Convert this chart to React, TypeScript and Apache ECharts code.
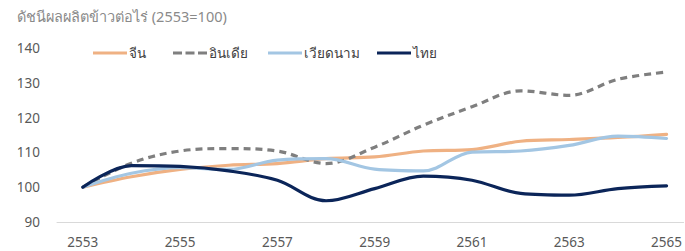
import React, { useEffect, useRef } from "react";
import * as echarts from "echarts";

const years = [2553, 2554, 2555, 2556, 2557, 2558, 2559, 2560, 2561, 2562, 2563, 2564, 2565];
const xTickLabels = [2553, 2555, 2557, 2559, 2561, 2563, 2565];
const seriesNames = ["จีน", "อินเดีย", "เวียดนาม", "ไทย"];
const china = [100, 103, 105.1, 106.3, 106.8, 108.2, 108.7, 110.4, 110.8, 113.2, 113.7, 114.3, 115.2];
const india = [100, 106.9, 110.4, 111.1, 110.4, 106.8, 111.5, 117.8, 123.1, 127.7, 126.4, 131, 133.1];
const vietnam = [100, 104, 105.6, 105.1, 107.8, 108.2, 105.2, 104.7, 110.1, 110.4, 112, 114.7, 114];
const thailand = [100, 106.2, 106, 104.7, 102, 96.1, 99.6, 103.2, 102, 98.2, 97.7, 99.6, 100.4];

const colors = ["#EFB183", "#7F7F7F", "#A3C6E3", "#0B2559"];
const dataSets = [china, india, vietnam, thailand];

const solidIcon = "path://M0,0h34v3h-34z";
const dashIcon = "path://M0,0h9v3h-9z M12.5,0h9v3h-9z M25,0h9v3h-9z";

export default function App() {
  const ref = useRef<HTMLDivElement>(null);
  useEffect(() => {
    document.body.style.margin = "0";
    if (!ref.current) return;
    const chart = echarts.init(ref.current, undefined, { renderer: "svg" });
    const font = "'Noto Sans', 'Open Sans', sans-serif";
    const legendLefts = [88, 168, 263, 372];
    chart.setOption({
      animation: false,
      textStyle: { fontFamily: font },
      title: {
        text: "ดัชนีผลผลิตข้าวต่อไร่ (2553=100)",
        left: 12,
        top: 3,
        textStyle: { fontSize: 14.5, fontWeight: "normal", color: "#8a8a8a", fontFamily: font },
      },
      legend: seriesNames.map((n, i) => ({
        data: [{ name: n, icon: i === 1 ? dashIcon : solidIcon }],
        left: legendLefts[i],
        top: 41,
        itemWidth: 34,
        itemHeight: 3,
        itemGap: 0,
        textStyle: { fontSize: 13.5, color: "#404040", fontFamily: font, padding: [0, 0, 0, -3] },
      })),
      grid: { left: 57, right: 0, top: 48, bottom: 29 },
      xAxis: {
        type: "value",
        min: 2552.47,
        max: 2565.35,
        axisLine: { show: true, lineStyle: { color: "#d9d9d9", width: 1 } },
        axisTick: { show: false },
        splitLine: { show: false },
        axisLabel: {
          customValues: xTickLabels,
          color: "#595959",
          fontSize: 13.5,
          margin: 13,
          formatter: (v: number) => String(v),
        },
      },
      yAxis: {
        type: "value",
        min: 90,
        max: 140,
        interval: 10,
        axisLine: { show: false },
        axisTick: { show: false },
        splitLine: { show: false },
        axisLabel: { color: "#595959", fontSize: 13.5, margin: 17 },
      },
      series: seriesNames.map((n, i) => ({
        name: n,
        type: "line",
        smooth: 0.35,
        showSymbol: false,
        symbol: "none",
        data: years.map((y, j) => [y, dataSets[i][j]]),
        lineStyle: {
          color: colors[i],
          width: 3.2,
          type: i === 1 ? [7, 5] : "solid",
          cap: i === 1 ? "butt" : "round",
        },
        itemStyle: { color: colors[i] },
        z: i === 3 ? 5 : 2 + i,
      })),
    });
    return () => chart.dispose();
  }, []);
  return <div ref={ref} style={{ width: 685, height: 251 }} />;
}
